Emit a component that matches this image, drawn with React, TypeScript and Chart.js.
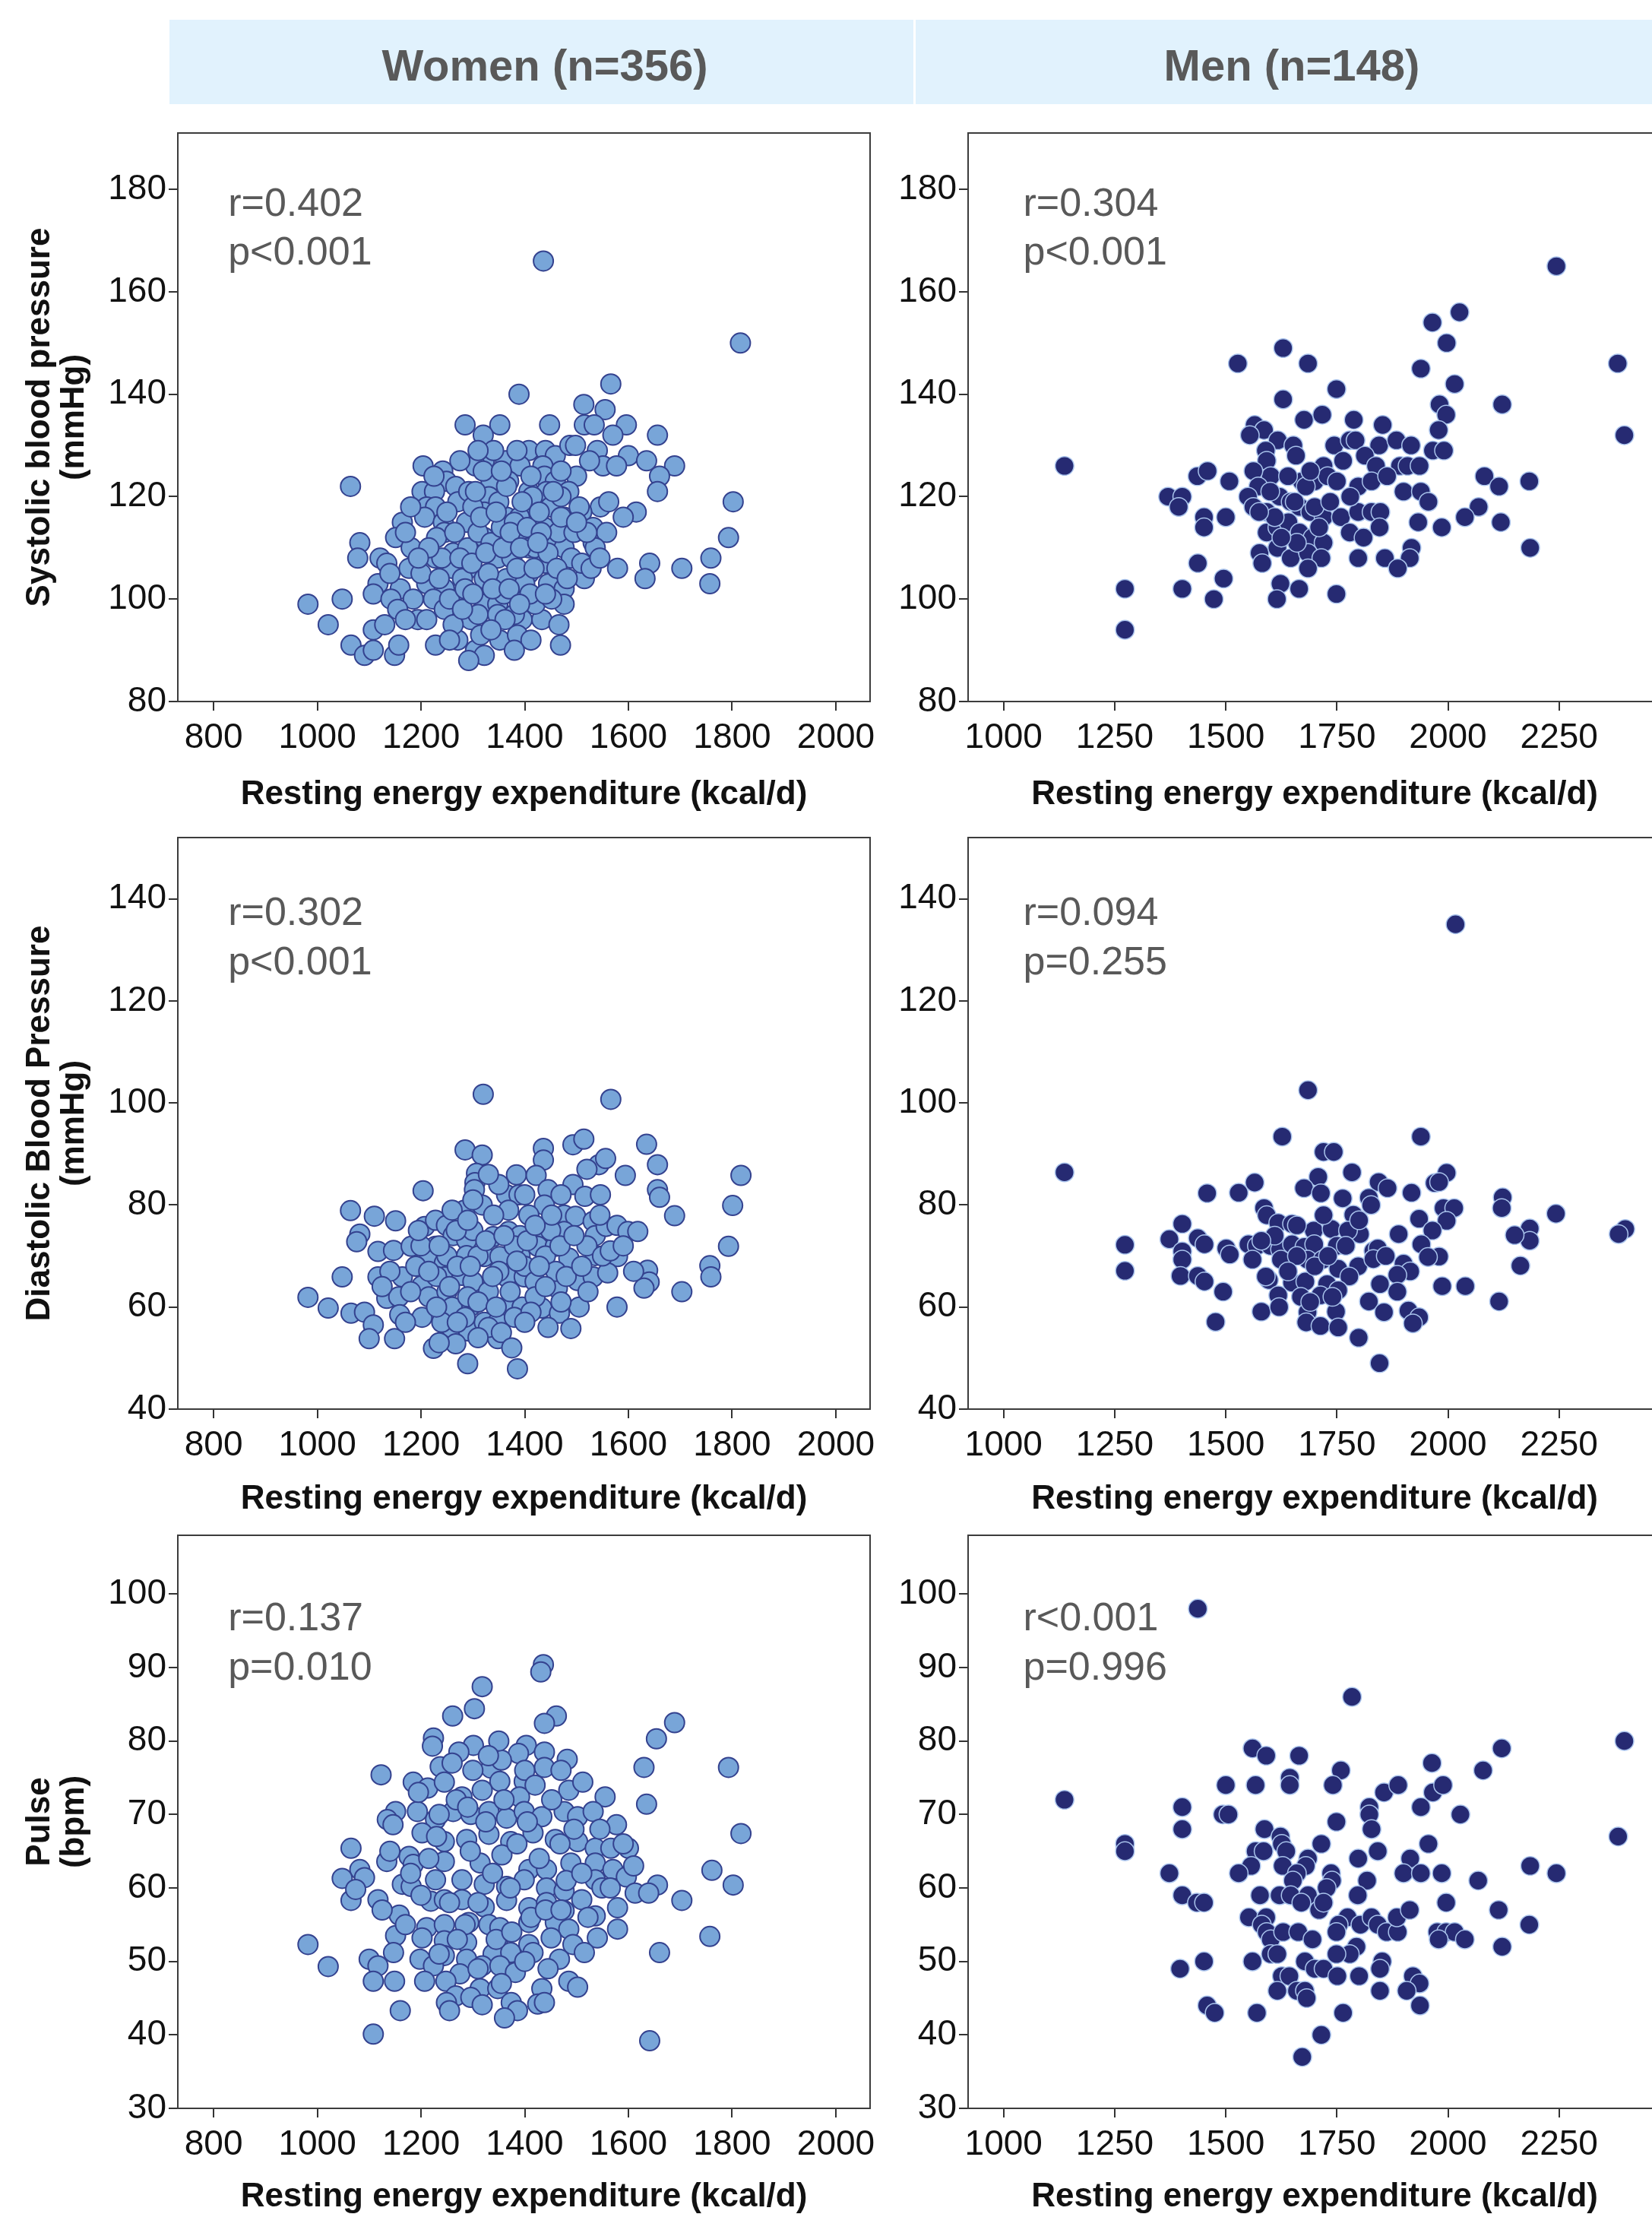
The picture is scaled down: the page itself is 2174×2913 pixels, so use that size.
import React, { useEffect, useRef } from 'react';
import { Chart, registerables } from 'chart.js';

Chart.register(...registerables);

const FONT = '"Liberation Sans", Arial, Helvetica, sans-serif';
Chart.defaults.font.family = FONT;

// ---------- tick labels ----------
const womenXTicks = [800, 1000, 1200, 1400, 1600, 1800, 2000];
const menXTicks = [1000, 1250, 1500, 1750, 2000, 2250];
const sbpTicks = [80, 100, 120, 140, 160, 180];
const dbpTicks = [40, 60, 80, 100, 120, 140];
const pulseTicks = [30, 40, 50, 60, 70, 80, 90, 100];

const groupTitles = ['Women (n=356)', 'Men (n=148)'];
const xTitle = 'Resting energy expenditure (kcal/d)';
const yTitles = [
  ['Systolic blood pressure', '(mmHg)'],
  ['Diastolic Blood Pressure', '(mmHg)'],
  ['Pulse', '(bpm)'],
];
const statsWomen = [['r=0.402', 'p<0.001'], ['r=0.302', 'p<0.001'], ['r=0.137', 'p=0.010']];
const statsMen = [['r=0.304', 'p<0.001'], ['r=0.094', 'p=0.255'], ['r<0.001', 'p=0.996']];

// ---------- data: [REE kcal/d, value] ----------
const womenSBP: number[][] = [
  [1436,166],[1816,150],[1566,142],[1389,140],[1514,138],[1555,137],
  [1285,134],[1352,134],[1448,134],[1515,134],[1534,134],[1596,134],
  [1320,132],[1570,132],[1656,132],
  [1408,129],[1440,129],[1459,128],[1487,130],[1498,130],[1540,129],[1600,128],
  [1635,127],[1689,126],[1551,126],[1577,126],
  [1204,126],[1322,127],[1305,126],[1363,127],[1391,126],[1435,126],
  [1660,124],[1656,121],[1242,125],[1249,123],[1267,122],
  [1335,123],[1369,123],[1438,124],[1459,123],[1500,124],
  [1202,121],[1226,121],[1211,118],[1228,118],[1271,119],[1292,121],[1331,120],[1408,121],[1442,121],[1485,121],
  [1802,119],[1546,118],[1615,117],
  [1207,116],[1164,115],[1243,115],[1288,115],[1322,117],[1365,116],[1412,117],[1476,116],[1510,117],[1532,114],
  [1793,112],
  [1151,112],[1082,111],[1181,110],[1245,113],[1322,112],[1399,112],[1438,114],[1455,111],[1532,111],[1558,113],
  [1078,108],[1121,108],[1134,107],[1177,106],[1228,108],[1262,109],[1348,108],[1408,110],[1476,110],[1536,110],
  [1579,106],[1641,107],[1632,104],[1703,106],[1759,108],[1757,103],
  [1117,103],[1160,102],[1211,103],[1245,102],[1292,106],[1322,104],[1365,104],[1408,105],[1446,103],[1476,102],[1515,104],
  [982,99],[1048,100],
  [1108,101],[1142,100],[1224,100],[1271,100],[1322,99],[1348,99],[1399,100],[1476,99],
  [1021,95],
  [1108,94],[1130,95],[1194,96],[1211,96],[1245,98],[1296,96],[1348,97],[1395,96],[1433,96],[1466,95],
  [1065,91],[1091,89],[1108,90],[1149,89],[1157,91],[1228,91],[1271,92],[1305,90],[1322,89],[1292,88],[1352,92],[1386,93],[1412,92],[1469,91],
  [1064,122],
  [1230,112],[1260,106],[1290,110],[1310,113],[1335,111],[1355,114],[1375,108],[1390,116],[1420,110],[1440,107],
  [1465,113],[1490,108],[1510,107],[1255,100],[1280,104],[1310,97],[1330,105],[1360,101],[1380,97],[1400,103],
  [1420,99],[1300,118],[1350,119],[1380,115],[1415,120],[1450,118],[1470,120],[1240,108],[1200,105],[1185,100],
  [1170,113],[1365,122],[1395,119],[1320,125],[1340,129],
  [1215,110],[1235,104],[1250,117],[1265,113],[1275,108],[1285,102],[1298,107],[1305,121],[1315,116],[1325,109],
  [1338,102],[1345,117],[1358,110],[1362,96],[1372,113],[1385,106],[1392,110],[1405,114],[1410,101],[1418,106],
  [1428,117],[1432,113],[1445,109],[1452,100],[1462,106],[1470,116],[1482,104],[1495,113],[1505,118],[1520,113],
  [1528,106],[1545,108],[1262,95],[1280,98],[1300,101],[1315,93],[1335,94],[1370,102],[1390,99],[1425,111],
  [1180,118],[1195,108],[1225,124],[1275,127],[1310,129],[1355,125],[1385,129],[1412,124],[1470,125],[1525,127],
  [1140,105],[1155,98],[1170,96],[1255,92],[1380,90],[1440,101],[1455,121],[1500,115],[1562,119],[1590,116],
];

const menSBP: number[][] = [
  [2244,165],[2026,156],[1965,154],[1997,150],[1629,149],[1527,146],[1685,146],[1939,145],[2382,146],[1749,141],
  [2015,142],[1629,139],[2122,138],[1981,138],[1996,136],[1676,135],[1717,136],[1788,135],[1853,134],[1565,134],
  [1586,133],[1554,132],[1617,131],[1979,133],[2397,132],[1652,130],[1658,128],[1744,130],[1779,131],[1792,131],
  [1845,130],[1884,131],[1917,130],[1966,129],[1991,129],[1590,129],[1592,127],[1601,124],[1813,128],[1838,126],
  [1892,126],[1909,126],[1936,126],[1764,127],[1720,126],[2082,124],[2115,122],[2183,123],[1436,124],[1459,125],
  [1508,123],[1562,125],[1573,122],[1671,123],[1700,123],[1729,124],[1798,122],[1828,123],[1863,124],[1900,121],
  [1939,121],[1956,119],[1370,120],[1402,120],[1394,118],[1550,120],[1562,118],[1592,117],[1621,120],[1646,119],
  [1666,118],[1690,117],[1720,116],[1759,116],[1798,117],[1828,117],[1848,117],[1451,116],[1451,114],[1500,116],
  [2069,118],[2038,116],[2119,115],[1933,115],[1986,114],[1779,113],[1846,114],[1592,113],[1616,114],[1641,115],
  [1666,113],[1695,112],[1720,111],[1576,109],[1616,110],[1646,108],[1685,109],[1715,108],[1918,110],[1914,108],
  [1858,108],[1798,108],[1887,106],[1582,107],[1685,106],[2185,110],[1437,107],[1495,104],[1402,102],[1473,100],
  [1623,103],[1665,102],[1615,100],[1749,101],[1273,102],[1273,94],[1137,126],
  [1600,121],[1640,124],[1680,122],[1700,118],[1735,119],[1610,116],[1660,111],[1690,125],[1750,123],[1780,120],
  [1810,112],[1575,117],[1625,112],[1710,114],[1655,119],
];

const womenDBP: number[][] = [
  [1320,101.7],[1566,100.7],[1285,90.8],[1318,89.8],[1436,91.1],[1436,88.8],[1493,91.8],[1514,92.9],[1635,91.9],
  [1543,87.9],[1556,89.1],[1656,87.9],[1594,85.8],[1307,86.2],[1304,84.4],[1303,83],[1384,85.9],[1422,85.8],
  [1817,85.8],[1204,82.8],[1445,83],[1493,84],[1516,81.7],[1546,82],[1656,83],[1660,81.5],[1365,82],[1389,82],
  [1438,80],[1801,79.9],[1064,78.9],[1110,77.8],[1151,76.9],[1284,79],[1318,80],[1369,79],[1408,78],[1476,78],
  [1498,77.8],[1532,76.8],[1689,77.9],[1207,75.8],[1228,77],[1249,76],[1262,74],[1288,73.1],[1339,73.8],[1369,74.8],
  [1391,74],[1434,74.8],[1476,74.8],[1536,74],[1557,75.8],[1578,76],[1599,74.8],[1618,74.8],[1082,74.3],[1076,72.8],
  [1793,71.9],[1117,70.9],[1147,71.1],[1181,71.9],[1228,71.9],[1211,69.6],[1245,68.6],[1288,70.1],[1322,69.9],
  [1352,69.9],[1391,70.1],[1425,71.9],[1459,71.9],[1485,69.6],[1536,70.1],[1579,69.9],[1757,68.1],[1759,65.9],
  [1637,67.2],[1640,64.9],[1630,63.7],[1048,65.9],[1117,65.9],[1164,65.9],[1202,64.2],[1245,65.9],[1279,66.2],
  [1365,65.9],[1399,65.9],[1463,63.7],[1502,65.2],[1532,65.9],[1560,66.7],[1703,63],[982,61.9],[1021,59.8],
  [1065,58.8],[1091,59],[1134,61.7],[1157,62],[1215,62],[1250,63],[1296,60.2],[1322,62],[1365,60],[1395,60],
  [1433,59.8],[1467,58.8],[1505,60],[1578,60],[1159,58.5],[1202,58],[1258,56],[1292,55.3],[1322,57],[1348,57],
  [1489,55.8],[1108,56.5],[1100,53.8],[1149,53.8],[1224,51.9],[1267,52.8],[1348,53.8],[1290,48.9],[1386,47.9],
  [1250,70],[1270,68],[1300,65],[1330,63],[1350,67],[1380,72],[1400,68],[1420,65],[1440,70],[1460,67],
  [1300,75],[1340,78],[1260,60],[1230,66],[1190,68],[1420,62],[1380,58],[1240,57],[1310,70],[1450,75],
  [1520,72],[1550,70],[1200,72],[1290,62],[1330,56],
  [1215,67],[1235,72],[1255,64],[1268,75],[1285,58],[1295,68],[1310,61],[1325,73],[1338,66],[1345,60],
  [1360,74],[1372,63],[1385,69],[1405,73],[1412,59],[1428,68],[1440,64],[1452,78],[1468,72],[1480,66],
  [1495,74],[1510,68],[1522,63],[1545,78],[1565,71],[1180,63],[1195,75],[1170,57],[1140,67],[1235,53],
  [1270,57],[1310,54],[1355,55],[1400,57],[1445,56],[1300,81],[1350,84],[1400,82],[1470,82],[1520,87],
  [1260,79],[1230,60],[1420,76],[1330,86],[1590,72],[1610,67],[1125,64],[1470,61],[1375,52],[1290,77],
];

const menDBP: number[][] = [
  [2017,135],[1685,102.5],[1627,93.4],[1939,93.4],[1720,90.4],[1743,90.4],[1137,86.4],[1565,84.4],[1458,82.3],
  [1529,82.4],[1708,85.5],[1676,83.3],[1714,82.3],[1784,86.4],[1844,84.5],[1864,83.3],[1918,82.4],[1970,84.3],
  [1997,86.3],[1980,84.5],[2123,81.5],[2121,79.4],[1763,81.3],[1822,81.4],[1827,80],[1586,79.4],[1592,78],
  [1787,78.1],[1990,79.4],[2014,79.4],[1997,76.9],[2243,78.3],[1935,77.3],[2399,75.3],[2384,74.3],[2184,75.4],
  [2184,73],[1402,76.3],[1618,76.5],[1649,76.3],[1698,75],[1738,75.3],[1802,74.3],[1775,75],[1889,74.3],[1965,75],
  [1940,72.3],[2150,74.1],[1373,73.3],[1437,73.5],[1452,72.3],[1501,71.5],[1509,70.3],[1551,72.3],[1570,72],
  [1600,72],[1622,71.3],[1649,72.3],[1677,71.8],[1699,72.3],[1750,72],[1273,72.2],[1273,67.1],[1402,70.9],
  [1402,69.3],[1980,69.9],[1955,69.8],[1832,71],[1842,71.5],[1560,69.3],[1624,69.3],[1684,69.3],[1718,69.3],
  [2163,68.1],[1798,68],[1832,69.4],[1753,67.5],[1778,66],[1900,68.5],[1915,67],[1398,66.1],[1437,66.1],[1452,65],
  [1597,65.3],[1649,64.8],[1679,65],[1728,64.5],[1753,63.3],[1847,64.5],[1886,66.3],[1886,63],[1987,64.1],
  [2039,64.1],[1494,63],[1618,62.3],[1669,62],[1713,62.3],[1822,61.1],[2115,61.1],[1580,59.1],[1684,59],[1681,57],
  [1713,56.3],[1748,59.1],[1753,56],[1856,59],[1911,59.3],[1935,58],[1921,56.8],[1477,57.1],[1799,54],[1846,49],
  [1610,74],[1660,70],[1700,68],[1640,67],[1730,70],[1580,73],[1690,61],[1770,72],[1620,60],[1660,76],
  [1720,78],[1860,70],[1590,66],[1740,62],[1800,77],
];

const womenPulse: number[][] = [
  [1436,90.4],[1431,89.4],[1318,87.4],[1303,84.4],[1261,83.4],[1461,83.4],[1438,82.4],[1689,82.5],[1654,80.3],
  [1224,80.4],[1222,79.3],[1301,79.4],[1273,78.5],[1403,79.4],[1388,78.3],[1438,78.5],[1438,76.4],[1482,77.5],
  [1237,76.5],[1630,76.4],[1793,76.4],[1123,75.4],[1335,76.3],[1355,77.4],[1352,74.5],[1185,74.4],[1213,73.6],
  [1245,74.4],[1318,73.3],[1279,72.4],[1399,74.5],[1390,72.4],[1485,73.3],[1512,74.4],[1555,72.4],[1635,71.4],
  [1151,70.4],[1135,69.3],[1146,68.6],[1193,70.4],[1228,69.3],[1262,70.4],[1296,70],[1331,70.4],[1365,69.5],
  [1399,70.4],[1433,69.7],[1476,70.4],[1502,69.7],[1532,70.4],[1577,68.6],[1202,67.5],[1245,66.3],[1288,66.6],
  [1331,67.3],[1373,66.3],[1416,67.5],[1459,66.6],[1502,66.3],[1536,65.4],[1566,65.4],[1600,65.4],[1817,67.4],
  [1065,65.4],[1134,63.6],[1177,64.3],[1185,63.2],[1245,63.6],[1314,63.4],[1356,64.5],[1408,62.5],[1442,62.5],
  [1489,63.4],[1536,63.4],[1570,62.5],[1596,61.5],[1761,62.4],[1082,62.5],[1091,61.4],[1048,61.3],[1656,60.4],
  [1802,60.4],[1164,60.5],[1181,60.2],[1228,61.1],[1279,61.1],[1322,60.5],[1365,60.2],[1399,61.1],[1442,60],
  [1476,59.6],[1536,61.1],[1549,60],[1613,59.3],[1639,59.3],[1703,58.3],[1065,58.3],[1117,58.4],[1074,59.8],
  [1219,58.2],[1245,58.4],[1279,58.4],[1322,57.4],[1365,58.3],[1408,57.3],[1442,58],[1476,56.9],[1510,58.4],
  [1579,57.3],[1158,56.3],[1211,54.6],[1245,55],[1292,55.3],[1331,55],[1352,54.6],[1408,55.3],[1459,55.3],
  [1485,54.4],[1536,56.2],[1579,54.4],[1151,53.5],[1202,53.2],[1245,52.8],[1288,52.6],[1348,52.3],[1408,52.3],
  [1451,53.2],[1493,52.3],[1540,53.2],[1757,53.4],[982,52.3],[1021,49.3],[1147,51.2],[1100,50.3],[1198,50.3],
  [1245,50.8],[1288,50.3],[1339,51],[1373,51.2],[1416,51.2],[1467,50.3],[1515,51.2],[1660,51.2],[1117,49.4],
  [1224,49.4],[1275,48.3],[1318,49.4],[1352,49.4],[1382,48.5],[1108,47.3],[1149,47.3],[1207,47.3],[1248,47.3],
  [1314,46.3],[1348,46.3],[1433,46.3],[1485,47.3],[1502,46.5],[1267,45.3],[1296,45.1],[1318,44.1],[1249,44.4],
  [1255,43.3],[1425,44.2],[1438,44.4],[1374,44.4],[1386,43.3],[1361,42.3],[1160,43.3],[1108,40.1],[1641,39.2],
  [1215,64],[1235,70],[1255,58],[1268,72],[1285,55],[1295,65],[1310,58],[1325,69],[1338,62],[1345,53],
  [1360,72],[1372,60],[1385,66],[1405,69],[1412,56],[1428,64],[1440,57],[1452,72],[1468,66],[1480,61],
  [1495,68],[1510,62],[1522,56],[1545,68],[1565,60],[1180,62],[1195,73],[1170,55],[1140,65],[1235,51],
  [1270,53],[1310,49],[1355,47],[1400,50],[1445,49],[1300,76],[1350,80],[1400,76],[1470,76],[1260,77],
  [1230,67],[1420,74],[1330,78],[1590,66],[1610,63],[1125,57],[1470,57],[1375,54],[1290,71],[1200,59],
];

const menPulse: number[][] = [
  [1437,98],[1784,86],[2397,80],[1560,79],[1591,78],[1665,78],[2121,79],[1759,76],[1964,77],[2079,76],[1500,74],
  [1567,74],[1644,75],[1644,74],[1741,74],[1856,73],[1888,74],[1966,73],[1989,74],[1137,72],[1823,71],[1823,70],
  [1402,71],[1493,70],[1506,70],[1749,69],[1939,71],[2028,70],[1828,68],[1402,68],[1587,68],[1623,67],[1626,66],
  [1636,65],[2383,67],[1273,66],[1273,65],[1715,66],[1956,66],[1567,65],[1585,65],[1842,65],[1685,64],[1680,63],
  [1798,64],[1915,64],[1557,63],[1628,63],[2185,63],[1373,62],[1529,62],[1900,62],[1939,62],[1986,62],[2244,62],
  [1737,62],[1739,61],[1727,60],[1660,62],[1651,61],[1818,61],[2068,61],[1402,59],[1435,58],[1451,58],[1577,59],
  [1621,59],[1646,59],[1685,59],[1670,58],[1710,57],[1720,58],[1797,59],[1996,58],[2114,57],[1552,56],[1591,56],
  [1581,55],[1592,54],[1601,53],[1774,56],[1754,55],[1749,54],[1803,55],[1828,56],[1842,55],[1862,54],[1887,54],
  [1885,56],[1914,57],[1629,54],[1663,54],[1695,53],[2183,55],[1976,54],[1996,54],[2015,54],[2038,53],[1979,53],
  [2122,52],[1794,52],[1779,51],[1749,51],[1601,51],[1616,51],[1451,50],[1397,49],[1560,50],[1678,50],[1700,49],
  [1720,49],[1852,50],[1847,49],[1751,48],[1800,48],[1626,48],[1643,48],[1921,48],[1936,47],[1616,46],[1660,46],
  [1678,46],[1682,45],[1847,46],[1907,46],[1458,44],[1475,43],[1570,43],[1764,43],[1937,44],[1715,40],[1672,37],
];

// ---------- styling ----------
const WOMEN_FILL = '#78a5d8';
const WOMEN_EDGE = '#34428f';
const MEN_FILL = '#262a72';
const MEN_EDGE = '#a9c3ec';
const PAD_TOP = 40;

type Ann = { text: string; x: number; y: number };

function framePlugin(anns: Ann[]) {
  return {
    id: 'frameAnn',
    afterDatasetsDraw(chart: any) {
      const { ctx, chartArea: a } = chart;
      ctx.save();
      ctx.strokeStyle = '#3c3c3c';
      ctx.lineWidth = 2;
      ctx.strokeRect(a.left, a.top, a.right - a.left, a.bottom - a.top);
      ctx.fillStyle = '#595959';
      ctx.font = '52px ' + FONT;
      ctx.textAlign = 'left';
      ctx.textBaseline = 'middle';
      const xs = chart.scales.x;
      const ys = chart.scales.y;
      anns.forEach((t) => ctx.fillText(t.text, xs.getPixelForValue(t.x), ys.getPixelForValue(t.y)));
      ctx.restore();
    },
  };
}

type PanelProps = {
  left: number; top: number; w: number; h: number;
  padRight: number; yw: number; xh: number;
  xMin: number; xMax: number; xTicks: number[];
  yMin: number; yMax: number; yTicks: number[];
  points: number[][]; fill: string; edge: string; radius: number; bw: number;
  yTitle: string[] | null; anns: Ann[];
};

function Panel(p: PanelProps) {
  const ref = useRef<HTMLCanvasElement>(null);
  useEffect(() => {
    const canvas = ref.current as HTMLCanvasElement;
    const tickFont = { family: FONT, size: 46, lineHeight: 1.2 };
    const gridOpts = { display: true, drawOnChartArea: false, drawTicks: true, tickLength: 12, color: '#333', lineWidth: 2 };
    const borderOpts = { display: true, color: '#333', width: 2 };
    const chart = new Chart(canvas, {
      type: 'scatter',
      data: {
        datasets: [{
          data: p.points.map(([x, y]) => ({ x, y })),
          pointRadius: p.radius,
          pointHoverRadius: p.radius,
          pointBorderWidth: p.bw,
          pointBackgroundColor: p.fill,
          pointBorderColor: p.edge,
        }],
      },
      options: {
        responsive: false,
        maintainAspectRatio: false,
        animation: false,
        devicePixelRatio: 1,
        events: [],
        layout: { padding: { top: PAD_TOP, right: p.padRight, bottom: 0, left: 0 } },
        plugins: { legend: { display: false }, tooltip: { enabled: false } },
        scales: {
          x: {
            type: 'linear', position: 'bottom', min: p.xMin, max: p.xMax,
            afterBuildTicks: (a: any) => { a.ticks = p.xTicks.map((v) => ({ value: v })); },
            afterFit: (a: any) => { a.height = p.xh; },
            ticks: { font: tickFont, color: '#111', padding: 9, autoSkip: false, maxRotation: 0, callback: (v: any) => String(v) },
            grid: gridOpts, border: borderOpts,
            title: {
              display: true, text: xTitle, color: '#111',
              font: { family: FONT, size: 44, weight: 'bold', lineHeight: '44px' },
              padding: { top: 0, bottom: 5 },
            },
          },
          y: {
            type: 'linear', position: 'left', min: p.yMin, max: p.yMax,
            afterBuildTicks: (a: any) => { a.ticks = p.yTicks.map((v) => ({ value: v })); },
            afterFit: (a: any) => { a.width = p.yw; },
            ticks: { font: tickFont, color: '#111', padding: 3, autoSkip: false, callback: (v: any) => String(v) },
            grid: gridOpts, border: borderOpts,
            title: p.yTitle
              ? {
                  display: true, text: p.yTitle, color: '#111',
                  font: { family: FONT, size: 44, weight: 'bold', lineHeight: '45px' },
                  padding: { top: 30, bottom: 0 },
                }
              : { display: false },
          },
        },
      } as any,
      plugins: [framePlugin(p.anns)],
    });
    return () => chart.destroy();
  }, []);
  return (
    <canvas
      ref={ref}
      width={p.w}
      height={p.h}
      style={{ position: 'absolute', left: p.left, top: p.top, width: p.w, height: p.h }}
    />
  );
}

const rows = [
  { T: 175, B: 923, xh: 150, yMin: 80, yMax: 191, ticks: sbpTicks, w: womenSBP, m: menSBP, ry: 177, py: 167.4 },
  { T: 1102, B: 1854, xh: 146, yMin: 40, yMax: 152, ticks: dbpTicks, w: womenDBP, m: menDBP, ry: 137, py: 127.3 },
  { T: 2020, B: 2774, xh: 144, yMin: 30, yMax: 108, ticks: pulseTicks, w: womenPulse, m: menPulse, ry: 96.6, py: 89.8 },
];

export default function App() {
  return (
    <div style={{ position: 'absolute', left: 0, top: 0, width: 2174, height: 2913, overflow: 'hidden', background: '#fff' }}>
      <div style={{ position: 'absolute', left: 223, top: 26, width: 979, height: 111, background: '#e1f2fd' }} />
      <div style={{ position: 'absolute', left: 1205, top: 26, width: 969, height: 111, background: '#e1f2fd' }} />
      <div style={{ position: 'absolute', left: 317, top: 30, width: 800, height: 111, lineHeight: '111px', textAlign: 'center', fontFamily: FONT, fontWeight: 'bold', fontSize: 58, color: '#595959' }}>
        {groupTitles[0]}
      </div>
      <div style={{ position: 'absolute', left: 1300, top: 30, width: 800, height: 111, lineHeight: '111px', textAlign: 'center', fontFamily: FONT, fontWeight: 'bold', fontSize: 58, color: '#595959' }}>
        {groupTitles[1]}
      </div>
      {rows.map((r, i) => {
        const h = PAD_TOP + (r.B - r.T) + r.xh;
        return (
          <React.Fragment key={i}>
            <Panel
              left={0} top={r.T - PAD_TOP} w={1200} h={h} padRight={55} yw={234} xh={r.xh}
              xMin={731} xMax={2066} xTicks={womenXTicks}
              yMin={r.yMin} yMax={r.yMax} yTicks={r.ticks}
              points={r.w} fill={WOMEN_FILL} edge={WOMEN_EDGE} radius={13} bw={2}
              yTitle={yTitles[i]}
              anns={[{ text: statsWomen[i][0], x: 828, y: r.ry }, { text: statsWomen[i][1], x: 828, y: r.py }]}
            />
            <Panel
              left={1160} top={r.T - PAD_TOP} w={1040} h={h} padRight={12} yw={114} xh={r.xh}
              xMin={920} xMax={2480} xTicks={menXTicks}
              yMin={r.yMin} yMax={r.yMax} yTicks={r.ticks}
              points={r.m} fill={MEN_FILL} edge={MEN_EDGE} radius={12.3} bw={1.5}
              yTitle={null}
              anns={[{ text: statsMen[i][0], x: 1044, y: r.ry }, { text: statsMen[i][1], x: 1044, y: r.py }]}
            />
          </React.Fragment>
        );
      })}
    </div>
  );
}
